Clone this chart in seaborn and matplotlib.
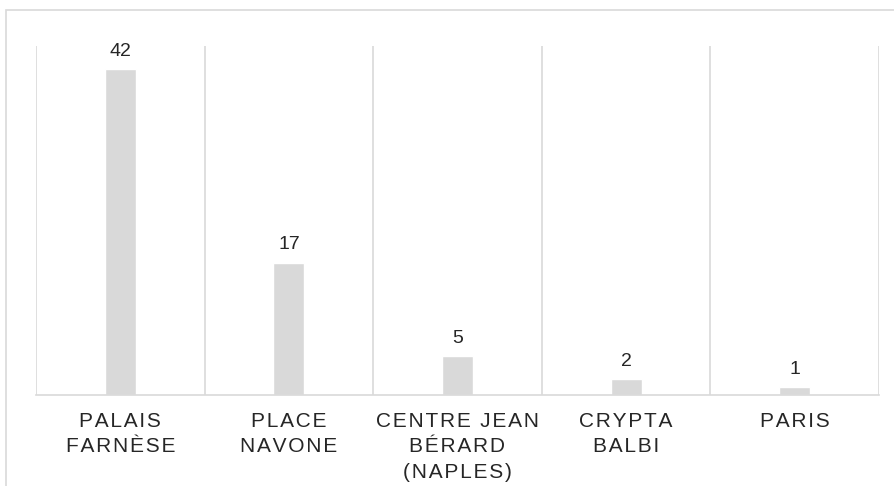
import matplotlib.pyplot as plt
import pandas as pd
import seaborn as sns
from matplotlib.patches import Rectangle

# data
sites = ["PALAIS\nFARNÈSE", "PLACE\nNAVONE", "CENTRE JEAN\nBÉRARD\n(NAPLES)",
         "CRYPTA\nBALBI", "PARIS"]
counts = [42, 17, 5, 2, 1]

GREY = "#d9d9d9"
TEXT = "#262626"
GAP = "\u200a"  # hair space, used as letter spacing


def spaced(label):
    # fake letter spacing between every character
    return "\n".join(GAP.join(line) for line in label.split("\n"))


df = pd.DataFrame({"site": sites, "count": counts})

sns.set_theme(style="white")
plt.rcParams["font.family"] = ["Liberation Sans", "DejaVu Sans"]

fig = plt.figure(figsize=(8.95, 4.86), dpi=100)
ax = fig.add_axes([36 / 895, 1 - 395 / 486, 843 / 895, 349 / 486])

sns.barplot(data=df, x="site", y="count", color=GREY, width=0.185,
            saturation=1, ax=ax)
ax.bar_label(ax.containers[0], padding=7, fontsize=14, color=TEXT)

ax.set_ylim(0, 45)
ax.set_xlim(-0.5, len(sites) - 0.5)
ax.set_yticks([])
ax.set_xticks(range(len(sites)))
ax.set_xticklabels([spaced(s) for s in sites], fontsize=15, color=TEXT,
                   linespacing=1.45, va="top")
ax.tick_params(axis="x", length=0, pad=12)
ax.set_xticks([i - 0.5 for i in range(len(sites) + 1)], minor=True)
ax.tick_params(axis="x", which="minor", length=0)
ax.grid(axis="x", which="minor", color=GREY, linewidth=1.2)
ax.grid(axis="x", which="major", visible=False)
ax.set_xlabel("")
ax.set_ylabel("")

for side in ["top", "right", "left"]:
    ax.spines[side].set_visible(False)
ax.spines["bottom"].set_color(GREY)
ax.spines["bottom"].set_linewidth(1.2)

# outer chart frame (cut off at bottom/right of the picture)
fig.patches.append(Rectangle((6 / 895, -0.5), 2, 1.5 - 10 / 486,
                             transform=fig.transFigure, fill=False,
                             edgecolor=GREY, linewidth=1.2))

fig.savefig("out.png", dpi=100)
